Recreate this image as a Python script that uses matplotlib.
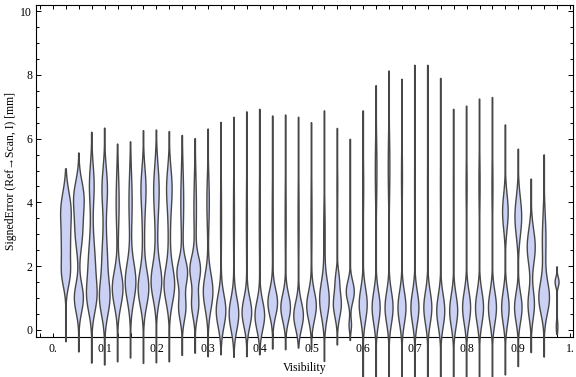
import matplotlib
matplotlib.use('Agg')
import matplotlib.pyplot as plt
import numpy as np
from matplotlib.ticker import FixedLocator, MultipleLocator

plt.rcParams['font.family'] = ['Liberation Serif', 'DejaVu Serif']

# visibility bin centres (one violin per bin)
VISIBILITY = [0.025, 0.05, 0.075, 0.1, 0.125, 0.15, 0.175, 0.2, 0.225, 0.25,
              0.275, 0.3, 0.325, 0.35, 0.375, 0.4, 0.425, 0.45, 0.475, 0.5,
              0.525, 0.55, 0.575, 0.6, 0.625, 0.65, 0.675, 0.7, 0.725, 0.75,
              0.775, 0.8, 0.825, 0.85, 0.875, 0.9, 0.925, 0.95, 0.975]

# smallest / largest signed error per bin [mm]
ERR_MIN = [-0.37, -0.69, -1.04, -1.10, -1.00, -0.88, -1.05, -1.03, -1.00, -0.80,
           -0.73, -0.84, -0.78, -0.86, -0.84, -0.78, -0.60, -0.62, -0.57, -0.62,
           -0.99, -0.47, -0.33, -1.60, -1.60, -1.60, -1.60, -1.60, -1.60, -1.60,
           -1.60, -1.60, -1.60, -1.60, -1.41, -1.15, -0.71, -0.85, -0.14]
ERR_MAX = [5.05, 5.55, 6.20, 6.33, 5.83, 5.90, 6.25, 6.27, 6.22, 6.10,
           6.00, 6.30, 6.51, 6.67, 6.84, 6.92, 6.71, 6.74, 6.67, 6.50,
           6.87, 6.32, 5.98, 6.87, 7.66, 8.12, 7.86, 8.30, 8.30, 7.89,
           6.92, 7.02, 7.24, 7.29, 6.43, 5.67, 4.73, 5.49, 1.98]

# density modes per bin: (centre, spread, relative height)
MODES = [
    [(3.8, 0.55, 1.0), (2.6, 0.6, 0.85), (1.7, 0.4, 0.65)],
    [(4.2, 0.5, 1.0), (3.1, 0.6, 0.8), (1.0, 0.45, 1.0)],
    [(4.6, 0.6, 0.5), (3.3, 1.0, 0.2), (2.0, 0.7, 0.75), (1.0, 0.5, 1.0)],
    [(4.5, 0.6, 0.45), (3.3, 1.0, 0.2), (2.2, 0.6, 0.4), (1.0, 0.55, 1.0)],
    [(4.0, 0.9, 0.28), (1.3, 0.55, 1.0)],
    [(4.0, 0.9, 0.3), (1.5, 0.6, 1.0)],
    [(4.5, 0.6, 0.4), (3.2, 1.0, 0.2), (1.3, 0.55, 1.0)],
    [(4.5, 0.7, 0.45), (3.2, 1.0, 0.2), (1.5, 0.55, 1.0)],
    [(4.5, 0.6, 0.45), (3.2, 1.0, 0.2), (1.4, 0.55, 1.0)],
    [(4.0, 1.0, 0.28), (1.8, 0.4, 1.0), (0.7, 0.4, 0.7)],
    [(3.8, 1.0, 0.25), (1.9, 0.4, 1.0), (0.8, 0.4, 0.7)],
    [(4.0, 0.8, 0.25), (1.2, 0.55, 1.0)],
    [(3.5, 1.2, 0.1), (0.6, 0.5, 1.0)],
    [(3.5, 1.2, 0.1), (0.5, 0.5, 1.0)],
    [(3.5, 1.2, 0.1), (0.55, 0.45, 1.0)],
    [(3.5, 1.2, 0.1), (0.45, 0.45, 1.0)],
    [(3.5, 1.2, 0.1), (0.85, 0.42, 1.0)],
    [(3.5, 1.2, 0.1), (0.7, 0.42, 1.0)],
    [(3.5, 1.2, 0.1), (0.45, 0.42, 1.0)],
    [(3.5, 1.2, 0.1), (0.75, 0.45, 1.0)],
    [(3.0, 0.9, 0.15), (0.95, 0.55, 1.0)],
    [(4.5, 0.6, 0.1), (1.6, 0.3, 0.4), (0.8, 0.4, 1.0)],
    [(1.2, 0.33, 1.0), (0.15, 0.2, 0.3)],
    [(4.5, 0.8, 0.12), (0.8, 0.5, 1.0)],
    [(5.0, 1.0, 0.2), (0.7, 0.5, 1.0)],
    [(5.1, 1.0, 0.2), (0.7, 0.5, 1.0)],
    [(4.8, 0.8, 0.12), (0.7, 0.5, 1.0)],
    [(4.5, 1.0, 0.08), (0.7, 0.5, 1.0)],
    [(4.5, 1.0, 0.08), (0.7, 0.5, 1.0)],
    [(4.5, 1.0, 0.08), (0.6, 0.5, 1.0)],
    [(4.5, 1.0, 0.08), (0.6, 0.5, 1.0)],
    [(4.5, 0.8, 0.12), (0.7, 0.5, 1.0)],
    [(4.6, 0.8, 0.14), (0.7, 0.5, 1.0)],
    [(4.5, 0.8, 0.12), (0.7, 0.5, 1.0)],
    [(3.7, 0.55, 0.75), (0.7, 0.5, 1.0)],
    [(3.55, 0.6, 0.9), (0.7, 0.45, 1.0)],
    [(2.6, 0.55, 1.0), (0.8, 0.45, 0.8)],
    [(2.8, 0.8, 0.35), (1.0, 0.5, 1.0)],
    [(1.5, 0.15, 1.0), (0.1, 0.2, 0.4)],
]

# peak width of each violin relative to the widest one
REL_WIDTH = [1.0, 1.0, 1.0, 1.0, 1.0, 1.0, 1.0, 1.0, 1.0, 1.0,
             1.0, 0.9, 0.9, 0.9, 0.9, 0.9, 0.9, 0.9, 0.9, 0.9,
             0.9, 0.75, 0.75, 0.75, 0.75, 0.75, 0.75, 0.75, 0.75, 0.75,
             0.75, 0.75, 0.75, 0.75, 0.7, 0.7, 0.75, 1.0, 0.37]

XTICKS = [0.0, 0.1, 0.2, 0.3, 0.4, 0.5, 0.6, 0.7, 0.8, 0.9, 1.0]
XTICK_LABELS = ['0.', '0.1', '0.2', '0.3', '0.4', '0.5', '0.6', '0.7', '0.8', '0.9', '1.']

FILL = '#cbd1f4'
EDGE = '#474747'

fig = plt.figure(figsize=(5.76, 3.77), dpi=100)
ax = fig.add_axes([36 / 576, (377 - 337.3) / 377, 537 / 576, 332.6 / 377])

half = 0.0103  # half-width of the widest violin, in visibility units
for x, lo, hi, modes, rw in zip(VISIBILITY, ERR_MIN, ERR_MAX, MODES, REL_WIDTH):
    y = np.linspace(lo, hi, 400)
    d = np.zeros_like(y)
    for c, s, w in modes:
        d += w * np.exp(-0.5 * ((y - c) / s) ** 2)
    d = d / d.max() * rw * half
    d = np.maximum(d, 0.0005)
    ax.fill(np.r_[x - d, (x + d)[::-1]], np.r_[y, y[::-1]],
            facecolor=FILL, edgecolor=EDGE, linewidth=1.0,
            clip_on=False, zorder=3)

ax.set_xlim(-0.0329, 1.0058)
ax.set_ylim(-0.23, 10.2)

ax.xaxis.set_major_locator(FixedLocator(XTICKS))
ax.set_xticklabels(XTICK_LABELS)
ax.xaxis.set_minor_locator(MultipleLocator(0.025))
ax.yaxis.set_major_locator(MultipleLocator(2))
ax.yaxis.set_minor_locator(MultipleLocator(0.5))

ax.tick_params(which='both', direction='in', top=True, right=True,
               labelsize=8.5, width=0.7, color='black')
ax.tick_params(axis='x', which='major', length=3.0, pad=4)
ax.tick_params(axis='x', which='minor', length=2.6)
ax.tick_params(axis='y', which='major', length=3.6, pad=2.7)
ax.tick_params(axis='y', which='minor', length=2.2)
for sp in ax.spines.values():
    sp.set_linewidth(0.8)

ax.set_xlabel('Visibility', fontsize=8.5, labelpad=5.5)
ax.set_ylabel('SignedError (Ref→Scan, I) [mm]', fontsize=8.5, labelpad=2.5)

fig.savefig('out.png', dpi=100)
